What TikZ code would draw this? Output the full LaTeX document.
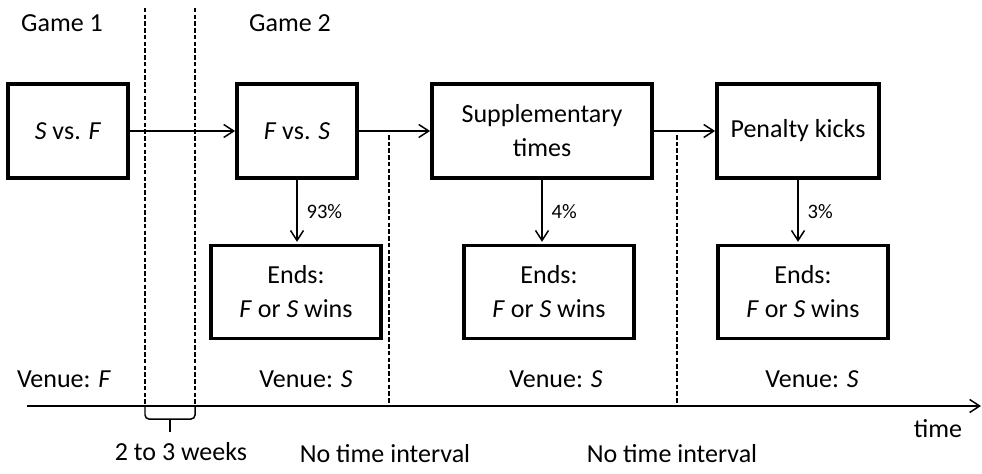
\documentclass[tikz,border=0pt]{standalone}
\usepackage{fontspec}
\setmainfont{Carlito}
\usetikzlibrary{arrows.meta}

\tikzset{
  stage/.style={draw, line width=2.2pt, minimum height=1.88cm, align=center},
  outcome/.style={draw, line width=2.2pt, minimum width=3.4cm, minimum height=1.86cm, align=center},
  flow/.style={-{Straight Barb[length=2mm,width=2.6mm]}, line width=0.85pt},
  divider/.style={line width=0.75pt, dash pattern=on 0.9mm off 0.45mm},
  bracket/.style={line width=0.85pt},
  pct/.style={right, xshift=0.6mm, font=\fontsize{11.7}{14}\selectfont},
  lbl/.style={anchor=base},
}

\begin{document}
\begin{tikzpicture}[x=0.02cm, y=-0.02cm, font=\fontsize{14.8}{19.3}\selectfont]
\useasboundingbox (0,0) rectangle (982,473);

% games and stages
\node[stage, minimum width=2.4cm] (game1) at (68,131) {\textit{S} vs. \textit{F}};
\node[stage, minimum width=2.4cm] (game2) at (297,131) {\textit{F} vs. \textit{S}};
\node[stage, minimum width=4.4cm] (extra) at (542,131) {Supplementary\\times};
\node[stage, minimum width=3.24cm] (pens) at (798,131) {Penalty kicks};

\node[outcome] (endgame) at (296,292) {Ends:\\\textit{F} or \textit{S} wins};
\node[outcome] (endextra) at (549,292) {Ends:\\\textit{F} or \textit{S} wins};
\node[outcome] (endpens) at (803,292) {Ends:\\\textit{F} or \textit{S} wins};

\draw[flow] (game1) -- (game2);
\draw[flow] (game2) -- (extra);
\draw[flow] (extra) -- (pens);
\draw[flow, shorten >=1pt] (game2.south) -- node[pct] {93\%} (game2.south |- endgame.north);
\draw[flow, shorten >=1pt] (extra.south) -- node[pct] {4\%} (extra.south |- endextra.north);
\draw[flow, shorten >=1pt] (pens.south) -- node[pct] {3\%} (pens.south |- endpens.north);

% time axis
\coordinate (t0) at (27,406);
\coordinate (t1) at (981,406);
\draw[flow] (t0) -- (t1);

\coordinate (d1) at (145,8);
\coordinate (d2) at (195,8);
\coordinate (d3) at (389,135);
\coordinate (d4) at (677,135);
\foreach \d in {d1,d2,d3,d4}
  \draw[divider] (\d) -- (\d |- t0);

% brace
\coordinate (b1) at (145,419);
\coordinate (b2) at (195,419);
\coordinate (btip) at (170,432);
\draw[bracket, rounded corners=0.8mm] (d1 |- t0) -- (b1) -- (b2) -- (d2 |- t0);
\draw[bracket] (btip |- b1) -- (btip);

% labels
\node[lbl] (g1lbl) at (62,32) {Game 1};
\node[lbl] (g2lbl) at (290,32) {Game 2};
\node[lbl] (venue1) at (64,387) {Venue: \textit{F}};
\node[lbl] (venue2) at (306,387) {Venue: \textit{S}};
\node[lbl] (venue3) at (556,387) {Venue: \textit{S}};
\node[lbl] (venue4) at (812,387) {Venue: \textit{S}};
\node[lbl] (timelbl) at (938,437) {time};
\node[lbl] (gap1) at (181,460) {2 to 3 weeks};
\node[lbl] (gap2) at (385,462) {No time interval};
\node[lbl] (gap3) at (672,462) {No time interval};
\end{tikzpicture}
\end{document}
